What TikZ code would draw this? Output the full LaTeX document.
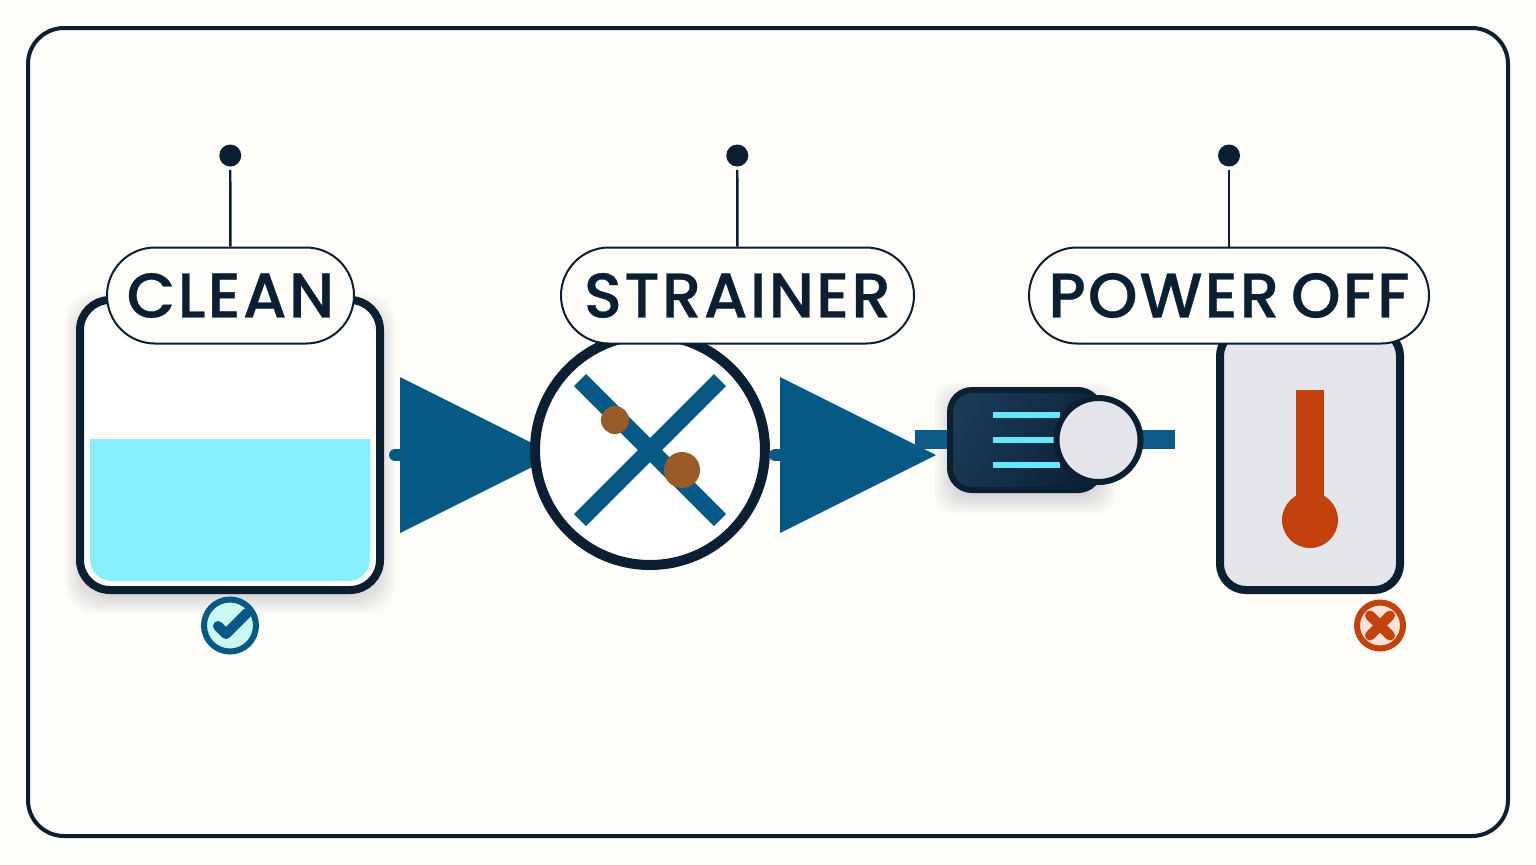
\documentclass[tikz,border=0pt]{standalone}
\usepackage{fontspec}
\setmainfont{Poppins Medium}[LetterSpace=3.4,WordSpace=0.62,FakeBold=0.5]
\definecolor{paper}{HTML}{FFFEFA}
\definecolor{ink}{HTML}{0B1F33}
\definecolor{flow}{HTML}{075985}
\definecolor{stub}{HTML}{0C5A86}
\definecolor{water}{HTML}{88F0FC}
\definecolor{dirt}{HTML}{985A27}
\definecolor{steel}{HTML}{E4E6EB}
\definecolor{hot}{HTML}{C2410C}
\definecolor{bar}{HTML}{67E8F9}
\definecolor{okfill}{HTML}{CBF8F1}
\definecolor{badfill}{HTML}{FEE3D8}
\definecolor{pumpa}{HTML}{1A3A58}
\definecolor{pumpb}{HTML}{0B2238}
\tikzset{
  x=0.5pt,y=-0.5pt,
  frame/.style={draw=ink,line width=2pt,fill=paper,rounded corners=18pt},
  vessel/.style={draw=ink,line width=4pt,rounded corners=#1},
  pill/.style={draw=ink,line width=1pt,fill=paper,rounded corners=24pt,minimum height=48pt,inner sep=0pt,text=ink,
    font=\fontsize{31.5}{36}\selectfont},
  pin/.style={circle,fill=ink,minimum size=11pt,inner sep=0pt},
  lead/.style={draw=ink,line width=1.2pt,shorten <=1.5pt},
  wedge/.style={fill=flow},
  lug/.style={draw=flow,line width=6pt,line cap=round},
  slat/.style={draw=flow,line width=8.5pt},
  grit/.style={circle,fill=dirt,inner sep=0pt},
  spigot/.style={fill=stub},
  badge/.style={circle,line width=3pt,inner sep=0pt,minimum size=#1},
  tick/.style={line width=5pt,line cap=round,line join=round},
}
\newcommand{\softshadow}[5]{%
  \foreach \e in {-4,-2,...,16}{%
    \fill[ink,opacity=.016,rounded corners=#5]
      ([xshift=-\e*0.5pt,yshift=\e*0.5pt]#1,#2) rectangle ([xshift=\e*0.5pt,yshift=-\e*0.5pt]#3,#4);
  }%
}
\begin{document}
\begin{tikzpicture}
\useasboundingbox (0,0) rectangle (1536,864);
\fill[paper] (0,0) rectangle (1536,864);
\draw[frame] (28,28) rectangle (1508,836);

% clean tank
\softshadow{80}{308}{380}{598}{15pt}
\draw[vessel=15pt,fill=white] (80,300) rectangle (380,590);
\fill[water] (90,439) -- (370,439) [rounded corners=11pt] -- (370,581) -- (90,581) [sharp corners] -- cycle;
\node[badge=26pt,draw=flow,fill=okfill] (okbadge) at (230,625.5) {};
\draw[tick,draw=flow] (218,626) -- (226,634) -- (247,613);

% first flow wedge
\draw[lug] (395,455) -- (410,455);
\fill[wedge] (400,377) -- (556,455) -- (400,533) -- cycle;

% strainer
\node[circle,draw=ink,line width=5pt,fill=white,minimum size=115pt,inner sep=0pt] (strainer) at (650,450) {};
\draw[slat] (580,380) -- (720,520);
\draw[slat] (720,380) -- (580,520);
\node[grit,minimum size=14pt] (grita) at (615,420) {};
\node[grit,minimum size=18pt] (gritb) at (682,470) {};

% second flow wedge
\draw[lug] (775,455) -- (790,455);
\fill[wedge] (780,377) -- (936,455) -- (780,533) -- cycle;

% pump
\softshadow{950}{398}{1100}{498}{10pt}
\fill[spigot] (915,430) rectangle (960,449);
\fill[spigot] (1130,430) rectangle (1175,449);
\path[draw=ink,line width=3pt,rounded corners=11pt,left color=pumpa,right color=pumpb,shading angle=60] (950,390) rectangle (1100,490);
\fill[bar] (993,412) rectangle (1060,418);
\fill[bar] (993,437) rectangle (1060,443);
\fill[bar] (993,462) rectangle (1060,468);
\node[circle,draw=ink,line width=3pt,fill=steel,minimum size=42pt,inner sep=0pt] (impeller) at (1098.5,440) {};

% thermometer box
\draw[vessel=13pt,fill=steel] (1220,330) rectangle (1400,590);
\fill[hot] (1296,390) rectangle (1324,510);
\fill[hot] (1310,520) circle (14pt);
\node[badge=23pt,draw=hot,fill=badfill] (badbadge) at (1380,625.5) {};
\draw[tick,draw=hot] (1370,615.5) -- (1390,635.5);
\draw[tick,draw=hot] (1390,615.5) -- (1370,635.5);

% labels
\node[pill,minimum width=123.5pt] (clean) at (230.5,295.5) {CLEAN};
\node[pill,minimum width=176.5pt] (strain) at (737.5,295.5) {STRAINER};
\node[pill,minimum width=200pt] (power) at (1229,295.5) {POWER OFF};
\node[pin] (pina) at (230.25,155.5) {};
\node[pin] (pinb) at (737.25,155.5) {};
\node[pin] (pinc) at (1229,155.5) {};
\draw[lead] (pina) -- (clean);
\draw[lead] (pinb) -- (strain);
\draw[lead] (pinc) -- (power);
\end{tikzpicture}
\end{document}
